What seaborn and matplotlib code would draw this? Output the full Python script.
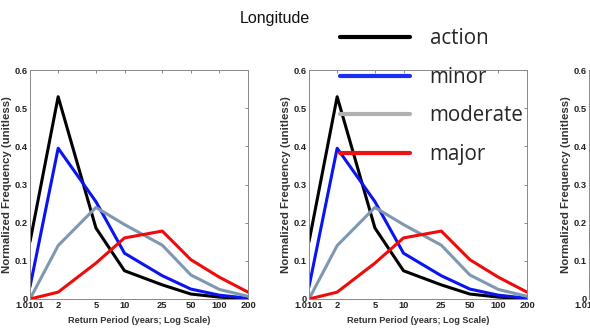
import numpy as np
import pandas as pd
import matplotlib
matplotlib.use("Agg")
import matplotlib.pyplot as plt
from matplotlib.lines import Line2D
import seaborn as sns

# Return periods (years) and normalized frequency per flood stage
return_period = [1.0101, 2, 5, 10, 25, 50, 100, 200]
tick_labels = ["1.0101", "2", "5", "10", "25", "50", "100", "200"]
action = [0.15, 0.53, 0.186, 0.074, 0.037, 0.013, 0.005, 0.0]
minor = [0.032, 0.395, 0.255, 0.12, 0.061, 0.026, 0.01, 0.002]
moderate = [0.0, 0.14, 0.24, 0.195, 0.141, 0.063, 0.025, 0.007]
major = [0.0, 0.018, 0.094, 0.16, 0.178, 0.103, 0.057, 0.018]

stages = ["action", "minor", "moderate", "major"]
line_colors = ["#000000", "#0a14f0", "#7f98b0", "#f00a0a"]
legend_colors = ["#000000", "#1a2ff0", "#b0b0b0", "#f01010"]

frames = []
for name, vals in zip(stages, [action, minor, moderate, major]):
    frames.append(pd.DataFrame({"period": return_period, "freq": vals, "stage": name}))
df = pd.concat(frames, ignore_index=True)

sns.set_style("white")
plt.rcParams["font.family"] = ["Liberation Sans", "DejaVu Sans"]

fig = plt.figure(figsize=(5.9, 3.28), dpi=100)
W, H = 590, 328
panel_lefts = [30, 309, 589]
bottom_px, top_px = 299, 70

for left in panel_lefts:
    ax = fig.add_axes([left / W, (H - bottom_px) / H, 218 / W, (bottom_px - top_px) / H])
    sns.lineplot(data=df, x="period", y="freq", hue="stage", hue_order=stages,
                 palette=line_colors, linewidth=2.2, legend=False, ax=ax,
                 estimator=None, sort=False)
    ax.set_xscale("log")
    ax.set_xlim(1.0101, 200)
    ax.set_ylim(0, 0.6)
    ax.set_xticks(return_period)
    ax.set_xticklabels(tick_labels)
    ax.xaxis.set_minor_locator(matplotlib.ticker.NullLocator())
    ax.set_yticks([0, 0.1, 0.2, 0.3, 0.4, 0.5, 0.6])
    ax.set_yticklabels(["0", "0.1", "0.2", "0.3", "0.4", "0.5", "0.6"])
    ax.tick_params(direction="in", top=True, right=True, length=2.5, width=0.6,
                   color="#777777", labelsize=6.7)
    ax.tick_params(axis="x", pad=1.5)
    ax.tick_params(axis="y", pad=1.5)
    for lab in ax.get_xticklabels() + ax.get_yticklabels():
        lab.set_fontweight("bold")
        lab.set_color("#222222")
    for sp in ax.spines.values():
        sp.set_color("#888888")
        sp.set_linewidth(0.7)
    ax.set_xlabel("Return Period (years; Log Scale)", fontsize=6.6,
                  fontweight="bold", color="#333333", labelpad=4)
    ax.set_ylabel("Normalized Frequency (unitless)", fontsize=8.2,
                  fontweight="bold", color="#333333", labelpad=2)

fig.text(240 / W, 1 - 18 / H, "Longitude", fontsize=11.5, va="center", ha="left",
         color="#111111")

handles = [Line2D([], [], color=c, linewidth=3.0) for c in legend_colors]
fig.legend(handles, stages, loc="upper left", bbox_to_anchor=(322 / W, 1 - 10 / H),
           frameon=False, handlelength=3.4, handletextpad=0.93,
           labelspacing=0.85, prop={"family": ["Open Sans", "DejaVu Sans"], "size": 14.8})

fig.savefig("out.png", dpi=100)
